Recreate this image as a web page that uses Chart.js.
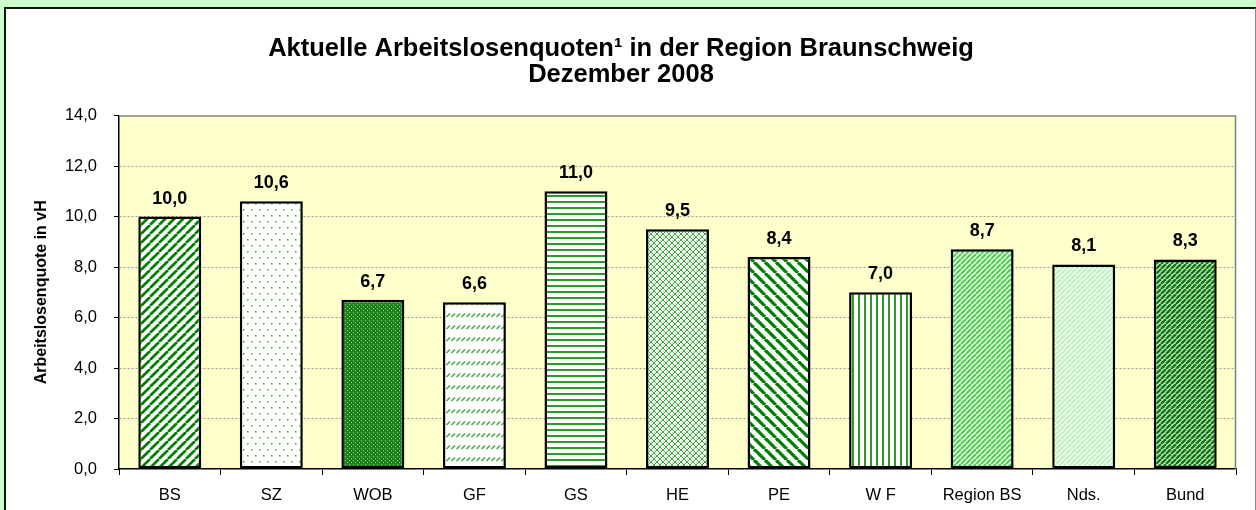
<!DOCTYPE html>
<html>
<head>
<meta charset="utf-8">
<script src="https://cdn.jsdelivr.net/npm/chart.js@4/dist/chart.umd.min.js"></script>
<style>
  html, body { margin: 0; padding: 0; }
  body { width: 1256px; height: 510px; background: #ccffcc; overflow: hidden; position: relative; }
  #panel { position: absolute; left: 4px; top: 7px; width: 1249px; height: 520px; background: #fff;
           border-left: 2px solid #111; border-top: 2px solid #111; border-right: 1px solid #888; }
  canvas { display: block; }
</style>
</head>
<body>
<div id="panel"><canvas id="graphique" width="1249" height="501"></canvas></div>
<script>
// Donnees
const regions = ["BS", "SZ", "WOB", "GF", "GS", "HE", "PE", "W F", "Region BS", "Nds.", "Bund"];
const quoten = [10.0, 10.6, 6.7, 6.6, 11.0, 9.5, 8.4, 7.0, 8.7, 8.1, 8.3];
const motifs = ["breitRechts", "punkte", "gitterDunkel", "strichel", "waagerecht", "gitterHell",
                "breitLinks", "senkrecht", "diagHell", "diagBlass", "diagDunkel"];
const titelZeilen = ["Aktuelle Arbeitslosenquoten\u00b9 in der Region Braunschweig", "Dezember 2008"];

const gruen = "#008000";

// petites tuiles de motif pour imiter les hachures Excel
function motif(typ) {
    const c = document.createElement("canvas");
    let w = 9, h = 9;
    if (typ === "breitLinks") { w = 11; h = 11; }
    if (typ === "punkte") { w = 8; h = 12; }
    if (typ === "strichel") { w = 5; h = 12; }
    if (typ === "waagerecht") { w = 4; h = 6; }
    if (typ === "senkrecht") { w = 6; h = 4; }
    if (typ === "gitterDunkel") { w = 4; h = 4; }
    if (typ === "gitterHell") { w = 6; h = 6; }
    if (typ === "diagHell" || typ === "diagBlass" || typ === "diagDunkel") { w = 5; h = 5; }
    c.width = w; c.height = h;
    const g = c.getContext("2d");
    g.fillStyle = "#fff";
    g.fillRect(0, 0, w, h);
    const diag = (farbe, breite, richtung) => {
        g.strokeStyle = farbe; g.lineWidth = breite;
        for (let k = -1; k <= 1; k++) {
            g.beginPath();
            if (richtung > 0) { g.moveTo(k * w, h); g.lineTo(k * w + w, 0); }
            else { g.moveTo(k * w, 0); g.lineTo(k * w + w, h); }
            g.stroke();
        }
    };
    if (typ === "breitRechts") diag(gruen, 2.7, 1);
    if (typ === "breitLinks") diag(gruen, 3.3, -1);
    if (typ === "punkte") {
        g.fillStyle = "#3aa63a";
        g.fillRect(1, 2, 1.5, 1.5);
        g.fillRect(5, 8, 1.5, 1.5);
    }
    if (typ === "strichel") {
        g.strokeStyle = "#3aaa3a"; g.lineWidth = 1.4;
        g.beginPath(); g.moveTo(0.5, 8); g.lineTo(4, 4.5); g.stroke();
    }
    if (typ === "waagerecht") { g.fillStyle = "#2e9a2e"; g.fillRect(0, 0, w, 2); }
    if (typ === "senkrecht") { g.fillStyle = "#2e9a2e"; g.fillRect(0, 0, 2, h); }
    if (typ === "gitterDunkel") {
        g.fillStyle = "#1a801a"; g.fillRect(0, 0, w, h);
        g.fillStyle = "#8fcf8f"; g.fillRect(1, 1, 1, 1); g.fillRect(3, 3, 1, 1);
    }
    if (typ === "gitterHell") {
        // treillis vert clair en losanges
        g.fillStyle = "#3aaa3a";
        for (let i = 0; i < 6; i++) {
            g.fillRect(i, i, 1, 1);
            g.fillRect(5 - i, i, 1, 1);
        }
        g.fillStyle = "#9ad89a";
        g.fillRect(3, 0, 1, 1); g.fillRect(0, 3, 1, 1);
    }
    if (typ === "diagHell") { g.fillStyle = "#e6fbe6"; g.fillRect(0, 0, w, h); diag("#55cc55", 2.2, 1); }
    if (typ === "diagBlass") { g.fillStyle = "#f2fff2"; g.fillRect(0, 0, w, h); diag("#bff0bf", 2.2, 1); }
    if (typ === "diagDunkel") { g.fillStyle = "#d6efd6"; g.fillRect(0, 0, w, h); diag("#127a12", 2.6, 1); }
    return g.createPattern(c, "repeat");
}

// fond jaune + bord gris du cadre
const cadrePlugin = {
    id: "cadre",
    beforeDraw(chart) {
        const { ctx, chartArea: a } = chart;
        ctx.save();
        ctx.fillStyle = "#ffffcc";
        ctx.fillRect(a.left, a.top, a.right - a.left, a.bottom - a.top);
        ctx.restore();
    },
    beforeDatasetsDraw(chart) {
        const { ctx, chartArea: a } = chart;
        ctx.save();
        ctx.strokeStyle = "#808080";
        ctx.lineWidth = 1.5;
        ctx.beginPath();
        ctx.moveTo(a.left, a.top + 0.5);
        ctx.lineTo(a.right - 0.5, a.top + 0.5);
        ctx.lineTo(a.right - 0.5, a.bottom);
        ctx.stroke();
        ctx.restore();
    }
};

// etiquettes de valeurs au dessus des barres
const wertePlugin = {
    id: "werte",
    afterDatasetsDraw(chart) {
        const { ctx } = chart;
        const meta = chart.getDatasetMeta(0);
        ctx.save();
        ctx.fillStyle = "#000";
        ctx.font = "bold 18px 'Liberation Sans', Arial, sans-serif";
        ctx.textAlign = "center";
        ctx.textBaseline = "alphabetic";
        meta.data.forEach((bar, i) => {
            ctx.fillText(quoten[i].toFixed(1).replace(".", ","), bar.x, bar.y - 13);
        });
        ctx.restore();
    }
};

const schrift = "'Liberation Sans', Arial, sans-serif";

new Chart(document.querySelector("#graphique"), {
    type: "bar",
    data: {
        labels: regions,
        datasets: [{
            data: quoten,
            backgroundColor: motifs.map(motif),
            borderColor: "#000",
            borderWidth: 2.5,
            borderSkipped: false,
            barPercentage: 0.62,
            categoryPercentage: 1
        }]
    },
    options: {
        responsive: false,
        animation: false,
        devicePixelRatio: 1,
        layout: { padding: { left: 0, right: 19, top: 0, bottom: 0 } },
        plugins: {
            legend: { display: false },
            tooltip: { enabled: false },
            title: {
                display: true,
                text: titelZeilen,
                color: "#000",
                font: { family: schrift, size: 25.5, weight: "bold", lineHeight: 1.03 },
                padding: { top: 27, bottom: 27 }
            }
        },
        scales: {
            x: {
                afterFit(scale) { scale.height = 41; },
                grid: { display: true, drawOnChartArea: false, tickLength: 6, tickColor: "#000", offset: true },
                border: { display: true, color: "#000", width: 1.5 },
                ticks: { color: "#000", padding: 11, font: { family: schrift, size: 16.5 }, maxRotation: 0 }
            },
            y: {
                min: 0,
                max: 14,
                afterFit(scale) { scale.width = 113; },
                ticks: {
                    stepSize: 2,
                    color: "#000",
                    padding: 17,
                    font: { family: schrift, size: 16.5 },
                    callback: v => v.toFixed(1).replace(".", ",")
                },
                grid: {
                    color: ctx => (ctx.tick && ctx.tick.value > 0 && ctx.tick.value < 14) ? "#9a9a9a" : "rgba(0,0,0,0)",
                    tickColor: "#000",
                    tickLength: 5,
                    lineWidth: 1
                },
                border: { display: true, color: "#000", width: 1.5, dash: [2, 2] },
                title: {
                    display: true,
                    text: "Arbeitslosenquote in vH",
                    color: "#000",
                    font: { family: schrift, size: 16, weight: "bold" },
                    padding: { top: 26, bottom: 0 }
                }
            }
        }
    },
    plugins: [cadrePlugin, wertePlugin]
});
</script>
</body>
</html>
